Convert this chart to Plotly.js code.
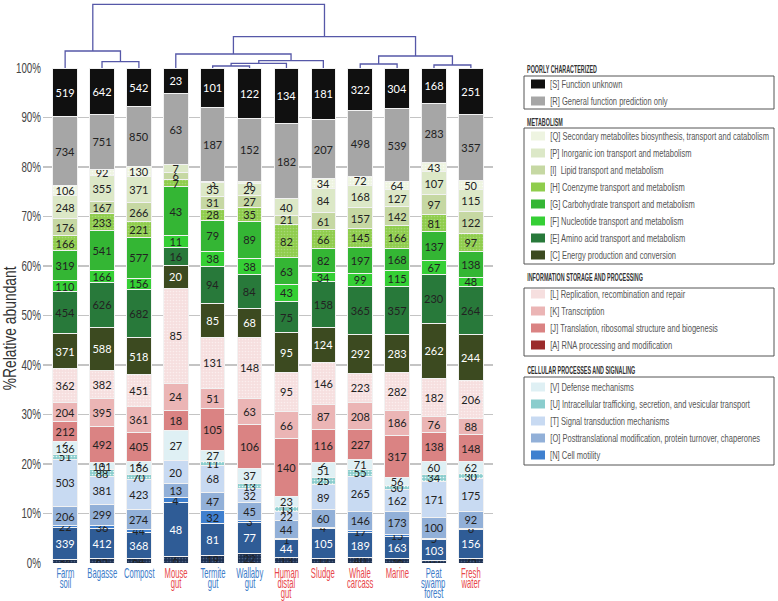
<!DOCTYPE html>
<html>
<head>
<meta charset="utf-8">
<script src="https://cdn.plot.ly/plotly-3.0.1.min.js"></script>
<style>html,body{margin:0;padding:0;background:#fff;}#chart{width:778px;height:601px;}</style>
</head>
<body>
<div id="chart"></div>
<script>
// ---------------- DATA ----------------
const categories = ['Farm soil','Bagasse','Compost','Mouse gut','Termite gut','Wallaby gut','Human distal gut','Sludge','Whale carcass','Marine','Peat swamp forest','Fresh water'];
const labelLines = [['Farm','soil'],['Bagasse'],['Compost'],['Mouse','gut'],['Termite','gut'],['Wallaby','gut'],['Human','distal','gut'],['Sludge'],['Whale','carcass'],['Marine'],['Peat','swamp','forest'],['Fresh','water']];
const labelIsRed = [false,false,false,true,false,false,true,true,true,true,false,true];

// COG counts per category (null = not present)
const D = [34,65,64,6,19,22,13,17,40,36,10,25];
const M = [339,412,368,48,81,77,44,105,189,163,103,156];
const N = [22,36,44,4,32,3,1,4,17,15,5,6];
const O = [206,299,274,13,47,45,44,60,146,173,100,92];
const T = [503,381,423,20,68,32,22,89,265,162,171,175];
const U = [51,88,70,null,11,13,13,25,55,30,34,30];
const V = [136,101,186,27,27,37,23,51,71,56,60,62];
const A = [2,1,2,null,null,null,null,2,null,null,0,null];
const J = [212,492,405,18,105,106,140,116,227,317,138,148];
const K = [204,395,361,24,51,63,66,87,208,186,76,88];
const L = [362,382,451,85,131,148,95,146,223,282,182,206];
const C = [371,588,518,20,85,68,95,124,292,283,262,244];
const E = [454,626,682,16,94,84,75,158,365,357,230,264];
const F = [110,166,156,11,38,38,43,34,99,115,67,48];
const G = [319,541,577,43,79,89,63,82,197,168,137,138];
const H = [166,233,221,7,28,35,82,66,145,166,81,97];
const I = [176,167,266,6,31,27,21,61,157,142,97,122];
const P = [248,355,371,7,35,29,40,84,168,127,107,115];
const Q = [106,92,130,null,3,6,null,34,72,64,43,50];
const R = [734,751,850,63,187,152,182,207,498,539,283,357];
const S = [519,642,542,23,101,122,134,181,322,304,168,251];

// dendrogram merges: [left node, right node, height]; leaves are 0..11, merges numbered from 12
const dendroMerges = [
  [1, 2, 6.3],
  [0, 12, 17],
  [4, 5, 2],
  [14, 6, 4.7],
  [15, 7, 7.3],
  [3, 16, 14],
  [8, 9, 4],
  [10, 11, 3],
  [18, 19, 12],
  [17, 20, 31.3],
  [13, 21, 63.7]
];

const stackOrder = ['D','M','N','O','T','U','V','A','J','K','L','C','E','F','G','H','I','P','Q','R','S'];
const seriesByCode = {D,M,N,O,T,U,V,A,J,K,L,C,E,F,G,H,I,P,Q,R,S};
const names = {
  S:'[S] Function unknown',
  R:'[R] General function prediction only',
  Q:'[Q] Secondary metabolites biosynthesis, transport and catabolism',
  P:'[P] Inorganic ion transport and metabolism',
  I:'[I]  Lipid transport and metabolism',
  H:'[H] Coenzyme transport and metabolism',
  G:'[G] Carbohydrate transport and metabolism',
  F:'[F] Nucleotide transport and metabolism',
  E:'[E] Amino acid transport and metabolism',
  C:'[C] Energy production and conversion',
  L:'[L] Replication, recombination and repair',
  K:'[K] Transcription',
  J:'[J] Translation, ribosomal structure and biogenesis',
  A:'[A] RNA processing and modification',
  V:'[V] Defense mechanisms',
  U:'[U] Intracellular trafficking, secretion, and vesicular transport',
  T:'[T] Signal transduction mechanisms',
  O:'[O] Posttranslational modification, protein turnover, chaperones',
  N:'[N] Cell motility',
  M:'[M] Cell wall/membrane/envelope biogenesis',
  D:'[D] Cell cycle control, cell division, chromosome partitioning'
};
const colors = {
  S:'#101010', R:'#a6a6a6',
  Q:'#eef4e1', P:'#dce8c7', I:'#c6d8a3', H:'#8fcd4c', G:'#34b634', F:'#35cf35', E:'#28793a', C:'#3c4a20',
  L:'#f6dfdf', K:'#ebb5b5', J:'#da8383', A:'#9b2b2b',
  V:'#dff0f4', U:'#8acdcd', T:'#c8daf2', O:'#92b0d8', N:'#3f80cf', M:'#2f5c96', D:'#1d3050'
};
const dotted = {U:'#e6f7f7', D:'#4a5f80', H:'#a8d878', L:'#fbeeee', Q:'#f8fbf2'};
const whiteText = ['S','C','M'];

const groupTitles = ['POORLY CHARACTERIZED','METABOLISM','INFORMATION STORAGE AND PROCESSING','CELLULAR PROCESSES AND SIGNALING'];
const groupCodes = [['S','R'],['Q','P','I','H','G','F','E','C'],['L','K','J','A'],['V','U','T','O','N']];

// ---------------- LAYOUT GEOMETRY (pixels) ----------------
const PL = 43, PR = 493, PT = 0, PB = 563, TOP100 = 68;
const fx = px => (px - PL) / (PR - PL);
const fy = py => (PB - py) / (PB - PT);
const headerY = [70, 123, 277, 371];
const boxTop = [76, 128, 288, 377];
const boxBottom = [109, 264, 356, 465];
const firstItemY = [84, 136, 294, 387];
const itemStep = 17;

const xIdx = categories.map((c, i) => i);

// ---------------- TRACES ----------------
const traces = stackOrder.map(code => {
  const vals = seriesByCode[code];
  const marker = {color: colors[code], line: {color: '#f2f2f2', width: 1}};
  if (dotted[code]) {
    marker.pattern = {shape: '.', fgcolor: dotted[code], bgcolor: colors[code], size: 3, solidity: 0.25, fillmode: 'replace'};
  }
  return {
    type: 'bar',
    name: names[code],
    x: xIdx,
    y: vals.map(v => v == null ? 0 : v),
    text: vals.map(v => v == null ? '' : String(v)),
    textposition: 'inside',
    insidetextanchor: 'middle',
    textangle: 0,
    textfont: {family: 'Lato, "Open Sans", sans-serif', size: 11, color: whiteText.includes(code) ? '#ffffff' : '#222222'},
    marker: marker,
    width: 0.665,
    showlegend: false,
    hovertemplate: '%{text}<extra>' + names[code] + '</extra>'
  };
});

// dendrogram from merge table
const nodeX = xIdx.slice();
const nodeH = xIdx.map(() => 0);
const dx = [], dy = [];
dendroMerges.forEach(([a, b, h]) => {
  dx.push(nodeX[a], nodeX[a], nodeX[b], nodeX[b], null);
  dy.push(nodeH[a], h, h, nodeH[b], null);
  nodeX.push((nodeX[a] + nodeX[b]) / 2);
  nodeH.push(h);
});
traces.push({
  type: 'scatter', mode: 'lines', x: dx, y: dy, xaxis: 'x', yaxis: 'y2',
  line: {color: '#5658a8', width: 1.3}, hoverinfo: 'skip', showlegend: false, cliponaxis: false
});

// ---------------- ANNOTATIONS & SHAPES ----------------
const annotations = [];
const shapes = [];
const sans = '"Liberation Sans", Arial, sans-serif';
const squeezeGroups = {xlab: [], ytitle: [], head: [], leg: []};
const refIdx = {};

labelLines.forEach((lines, i) => {
  lines.forEach((ln, j) => {
    if (ln === 'Bagasse') refIdx.xlab = annotations.length;
    squeezeGroups.xlab.push(annotations.length);
    annotations.push({
      xref: 'x', yref: 'paper', x: i, y: 0, yanchor: 'middle', xanchor: 'center',
      yshift: -(10 + 9.8 * j), text: ln, showarrow: false,
      font: {family: sans, size: 14, color: labelIsRed[i] ? '#e8474b' : '#3d7cc9'}
    });
  });
});

refIdx.ytitle = annotations.length;
squeezeGroups.ytitle.push(annotations.length);
annotations.push({
  xref: 'paper', yref: 'paper', x: fx(10), y: fy(329), text: '%Relative abundant',
  textangle: -90, showarrow: false, xanchor: 'center', yanchor: 'middle',
  font: {family: sans, size: 18, color: '#333'}
});

groupTitles.forEach((t, g) => {
  if (g === 0) refIdx.head = annotations.length;
  squeezeGroups.head.push(annotations.length);
  annotations.push({
    xref: 'paper', yref: 'paper', x: fx(525), y: fy(headerY[g]), xanchor: 'left', yanchor: 'middle',
    text: '<b>' + t + '</b>', showarrow: false, font: {family: sans, size: 10, color: '#333'}
  });
  shapes.push({
    type: 'rect', xref: 'paper', yref: 'paper', x0: fx(524), x1: fx(774), y0: fy(boxTop[g]), y1: fy(boxBottom[g]),
    line: {color: '#555', width: 1}, fillcolor: 'rgba(0,0,0,0)'
  });
  groupCodes[g].forEach((code, k) => {
    const yc = firstItemY[g] + k * itemStep;
    shapes.push({
      type: 'rect', xref: 'paper', yref: 'paper', x0: fx(531), x1: fx(545), y0: fy(yc - 4.5), y1: fy(yc + 4.5),
      line: {width: 0}, fillcolor: colors[code]
    });
    if (code === 'Q') refIdx.leg = annotations.length;
    squeezeGroups.leg.push(annotations.length);
    annotations.push({
      xref: 'paper', yref: 'paper', x: fx(548), y: fy(yc), xanchor: 'left', yanchor: 'middle',
      text: names[code], showarrow: false, font: {family: sans, size: 11, color: '#555'}
    });
  });
});

// target text widths (px) of reference strings, used to mimic the condensed typeface
const targetWidth = {xlab: 30, ytitle: 124, head: 70, leg: 219, ytick: 25};
const origins = {xlab: 'center center', ytitle: 'center center', head: 'left center', leg: 'left center'};

const layout = {
  width: 778, height: 601,
  margin: {l: PL, r: 778 - PR, t: PT, b: 601 - PB, pad: 0},
  paper_bgcolor: '#ffffff', plot_bgcolor: '#ffffff',
  barmode: 'stack', barnorm: 'percent',
  uniformtext: {mode: 'show', minsize: 11},
  showlegend: false,
  xaxis: {range: [-0.6, 11.6], showticklabels: false, showgrid: false, zeroline: false, ticks: '', fixedrange: true},
  yaxis: {
    domain: [0, fy(TOP100)], range: [0, 100], dtick: 10, ticksuffix: '%',
    showgrid: true, gridcolor: '#c4c4c4', gridwidth: 1.2, zeroline: false, showline: false, ticks: '',
    tickfont: {family: sans, size: 14, color: '#444'}, ticklabelstandoff: 1, fixedrange: true
  },
  yaxis2: {domain: [fy(TOP100), 1], range: [0, 68], visible: false, fixedrange: true},
  annotations: annotations,
  shapes: shapes,
  font: {family: sans}
};

Plotly.newPlot('chart', traces, layout, {displayModeBar: false, staticPlot: true}).then(gd => {
  const textOf = i => gd.querySelector('.annotation[data-index="' + i + '"] text.annotation-text');
  Object.keys(squeezeGroups).forEach(key => {
    const ref = textOf(refIdx[key]);
    if (!ref) return;
    const w = ref.getBBox().width;
    if (!w) return;
    const s = Math.min(1, targetWidth[key] / w);
    squeezeGroups[key].forEach(i => {
      const t = textOf(i);
      if (!t) return;
      t.style.transformBox = 'fill-box';
      t.style.transformOrigin = origins[key];
      t.style.transform = 'scaleX(' + s.toFixed(3) + ')';
    });
  });
  // condense y tick labels around their right edge
  try {
    const ticks = Array.from(gd.querySelectorAll('.ytick text'));
    const ref = ticks.find(t => t.textContent === '100%');
    if (ref) {
      const s = Math.min(1, targetWidth.ytick / ref.getBBox().width);
      ticks.forEach(t => {
        const bb = t.getBBox();
        const xr = bb.x + bb.width;
        const orig = t.getAttribute('transform') || '';
        t.setAttribute('transform', orig + ' translate(' + xr + ',0) scale(' + s.toFixed(3) + ',1) translate(' + (-xr) + ',0)');
      });
    }
  } catch (e) {}
});
</script>
</body>
</html>
